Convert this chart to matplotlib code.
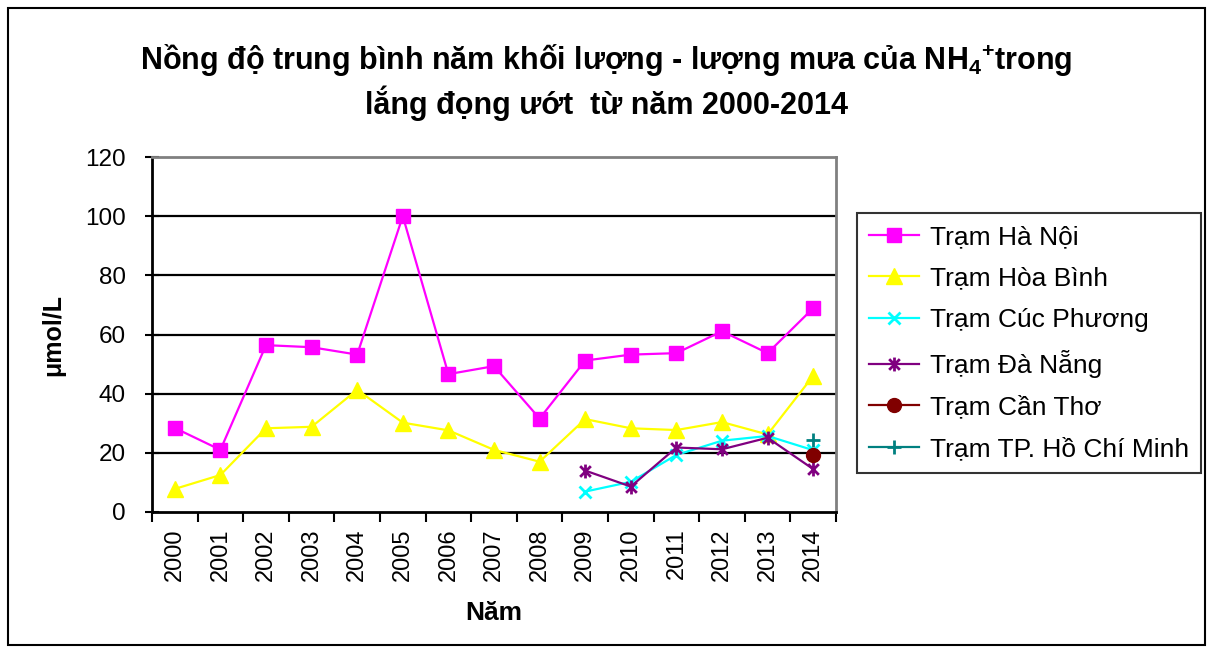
import matplotlib
matplotlib.use("Agg")
import matplotlib.pyplot as plt
from matplotlib.path import Path
from matplotlib.patches import Rectangle

plt.rcParams['font.family'] = ['Liberation Sans', 'DejaVu Sans']
plt.rcParams['mathtext.fontset'] = 'custom'
plt.rcParams['mathtext.rm'] = 'Liberation Sans'
plt.rcParams['mathtext.bf'] = 'Liberation Sans:bold'

# data
years = [str(y) for y in range(2000, 2015)]
ha_noi = [28.4, 21, 56.4, 55.7, 53.2, 100, 46.6, 49.3, 31.6, 51.2, 53.2, 53.7, 61.1, 53.7, 68.9]
hoa_binh = [7.8, 12.5, 28.3, 28.8, 41.3, 30.2, 27.6, 21, 17, 31.4, 28.3, 27.7, 30.4, 26.2, 46]
cuc_phuong = [None] * 9 + [6.9, 10.2, 19.3, 24.1, 25.7, 20.9]
da_nang = [None] * 9 + [14, 8.6, 21.8, 21.2, 25.1, 14.5]
can_tho = [None] * 14 + [19.3]
hcm = [None] * 14 + [24.3]

series = [
    ("Trạm Hà Nội", ha_noi),
    ("Trạm Hòa Bình", hoa_binh),
    ("Trạm Cúc Phương", cuc_phuong),
    ("Trạm Đà Nẵng", da_nang),
    ("Trạm Cần Thơ", can_tho),
    ("Trạm TP. Hồ Chí Minh", hcm),
]

# excel-style star marker: x with a vertical bar
star = Path([(-1, -1), (1, 1), (-1, 1), (1, -1), (0, -1.3), (0, 1.3)],
            [Path.MOVETO, Path.LINETO, Path.MOVETO, Path.LINETO, Path.MOVETO, Path.LINETO])

styles = [
    dict(color='#FF00FF', marker='s', markersize=10),
    dict(color='#FFFF00', marker='^', markersize=11),
    dict(color='#00FFFF', marker='x', markersize=8, markeredgewidth=2),
    dict(color='#800080', marker=star, markersize=10, markeredgewidth=2),
    dict(color='#800000', marker='o', markersize=10),
    dict(color='#008080', marker='+', markersize=10, markeredgewidth=2),
]

fig = plt.figure(figsize=(12.13, 6.53), dpi=100)
ax = fig.add_axes([152 / 1213, 1 - 512 / 653, 684 / 1213, 355 / 653])

x = list(range(len(years)))
for (name, vals), st in zip(series, styles):
    ax.plot(x, [v if v is not None else float('nan') for v in vals],
            label=name, linewidth=1.6, **st)

ax.set_xlim(-0.5, len(years) - 0.5)
ax.set_ylim(0, 120)
ax.set_yticks(range(0, 121, 20))
ax.set_xticks(x)
ax.set_xticklabels(years, rotation=90, fontsize=17)
ax.set_xticks([i - 0.5 for i in range(len(years) + 1)], minor=True)
ax.tick_params(axis='x', which='major', length=0, pad=12)
ax.tick_params(axis='x', which='minor', length=7, width=1.5, direction='out')
ax.tick_params(axis='y', labelsize=17.5, length=10, width=1.5, direction='inout', pad=14)
for yv in range(20, 101, 20):
    ax.axhline(yv, color='black', linewidth=1.6, zorder=0.5)

ax.spines['left'].set_linewidth(2)
ax.spines['bottom'].set_linewidth(2)
ax.spines['top'].set_color('#808080')
ax.spines['right'].set_color('#808080')
ax.spines['top'].set_linewidth(2)
ax.spines['right'].set_linewidth(2)

ax.set_xlabel("Năm", fontsize=19, fontweight='bold', labelpad=14)
ax.set_ylabel("μmol/L", fontsize=18, fontweight='bold', labelpad=14)

fig.text(0.5, 1 - 60 / 653,
         r"Nồng độ trung bình năm khối lượng - lượng mưa của NH$_\mathbf{4}$$^\mathbf{+}$trong",
         ha='center', va='center', fontsize=22, fontweight='bold')
fig.text(0.5, 1 - 103 / 653, "lắng đọng ướt  từ năm 2000-2014",
         ha='center', va='center', fontsize=22, fontweight='bold')

leg = fig.legend(loc='upper left', bbox_to_anchor=(857 / 1213, 1 - 213 / 653),
                 borderaxespad=0, fontsize=19, frameon=True, fancybox=False,
                 edgecolor='black', handlelength=1.9, labelspacing=0.67,
                 borderpad=0.45, handletextpad=0.4)
leg.get_frame().set_linewidth(1.5)

fig.patches.append(Rectangle((8 / 1213, 8 / 653), 1197 / 1213, 637 / 653,
                             transform=fig.transFigure, fill=False,
                             edgecolor='black', linewidth=1.5))

fig.savefig("out.png", dpi=100)
